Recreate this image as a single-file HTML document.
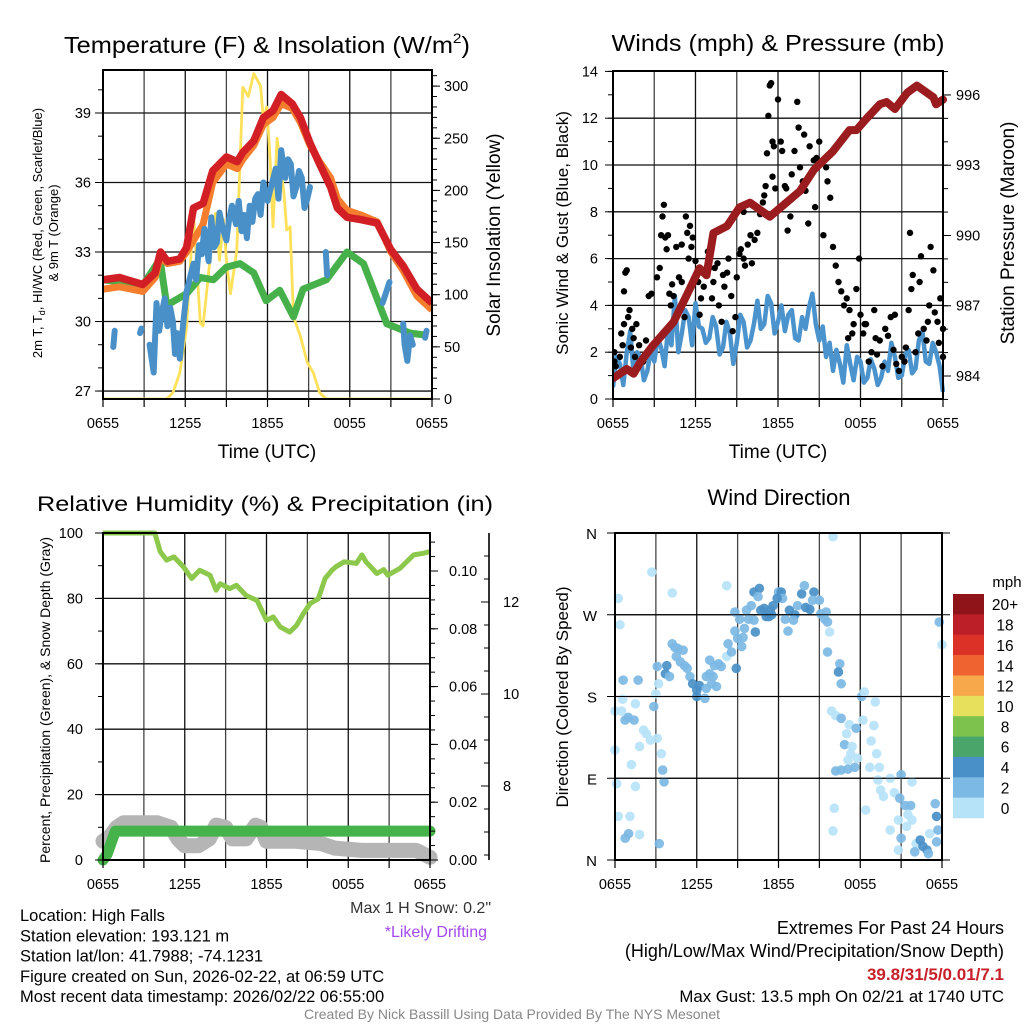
<!DOCTYPE html>
<html><head><meta charset="utf-8"><style>
html,body{margin:0;padding:0;background:#fff;}
svg{display:block;font-family:"Liberation Sans",Arial,sans-serif;}
</style></head><body>
<svg id="c" width="1024" height="1024" viewBox="0 0 1024 1024" xmlns="http://www.w3.org/2000/svg"></svg>
<script>
// ---------- DATA ----------
const timeTicks = ["0655","1255","1855","0055","0655"];
// Panel 1: temperature (hours since 0655)
const tempHours = [0,1.2,2.9,3.8,4.2,4.7,5.6,6.1,6.6,7.3,8,9,9.8,10.2,11,11.7,12.4,13,13.8,14.4,15.1,15.8,16.6,17.1,17.8,18.8,20,21,21.9,22.9,24];
const temp2m = [31.8,31.9,31.6,32.1,33.0,32.6,32.7,33.2,34.9,35.1,36.5,37.1,36.9,37.3,37.8,38.8,39.1,39.8,39.4,38.8,37.7,36.8,35.8,34.9,34.5,34.4,34.25,33.1,32.4,31.4,30.8];
const temp9m = [31.4,31.5,31.3,31.9,32.8,32.5,32.6,33.0,33.5,34.2,36.0,36.8,36.6,37.0,37.6,38.5,38.8,39.4,39.2,38.6,37.6,36.9,36.2,35.3,34.8,34.6,34.3,33.0,32.2,31.1,30.5];
const dewHours = [0,2.94,4.16,4.65,6.1,7.1,8.05,9,10,11,11.9,12.9,13.9,14.6,16.3,17.8,19,20.7,22.4,23.7];
const dewVals = [31.8,31.6,32.7,30.7,31.2,31.9,31.8,32.35,32.5,32.1,30.9,31.35,30.2,31.4,31.8,33.0,32.5,29.9,29.5,29.4];
const hiHours = [0.75,0.85,null,2.7,2.8,null,3.4,3.7,3.9,4.1,4.3,4.5,4.7,4.9,5.1,5.25,5.4,5.6,5.9,6.1,6.3,6.6,6.8,7.0,7.2,7.4,7.7,7.9,8.1,8.3,8.5,8.7,9.0,9.2,9.4,9.7,9.9,10.1,10.3,10.5,10.7,10.9,11.1,11.3,11.5,11.7,12.0,12.3,12.6,12.8,13.0,13.3,13.5,13.7,13.9,14.1,14.3,14.5,14.7,14.9,15.1,null,16.25,16.35,null,20.4,20.9,null,21.9,22.0,22.2,22.4,22.6,null,23.5,23.6];
const hiVals  = [28.9,29.6,null,29.5,29.7,null,29.0,27.8,30.8,29.6,30.4,31.0,29.8,30.6,30.0,28.6,29.5,28.4,30.2,31.3,31.8,32.5,31.8,33.3,32.9,34.0,32.6,34.5,33.2,33.4,34.7,34.1,33.5,34.4,35.0,34.2,35.2,33.9,34.6,33.6,35.0,34.3,35.3,35.5,34.6,36.0,35.2,35.9,36.6,35.3,37.4,36.2,37.0,36.8,35.4,35.8,36.5,36.2,34.9,35.3,35.8,null,33.0,32.0,null,30.8,31.7,null,29.9,29.0,28.3,29.4,29.0,null,29.3,29.6];
const solarHours = [0,4.65,5.1,5.6,6.1,6.6,7.1,7.3,7.8,8.2,8.5,8.8,9.0,9.3,9.76,10.2,10.6,11.0,11.5,11.7,11.95,12.2,12.4,12.7,13.2,13.4,13.65,13.9,14.4,14.9,15.35,15.8,16.3,24];
const solarVals = [0,0,6,25,69,178,73,70,133,178,133,172,133,101,143,299,290,312,300,268,280,229,165,250,197,162,165,79,60,35,25,6,0,0];
// Panel 2: winds & pressure
const presHours = [0,1.0,1.5,2.0,2.9,4.4,5.4,6.3,6.8,7.3,8.3,9.2,9.96,11.4,12.6,13.6,14.6,16.0,17.2,17.7,18.45,19.4,19.9,20.5,21.4,22.1,23.3,23.5,24];
const presVals = [983.9,984.3,984.1,984.6,985.3,986.3,987.5,988.6,988.3,990.1,990.4,991.2,991.4,990.8,991.4,991.9,992.8,993.6,994.5,994.5,995.0,995.6,995.7,995.4,996.1,996.4,995.9,995.6,995.8];
// sonic wind every 15 minutes
const windVals = [0.5,1.8,1.5,0.6,2.0,2.9,1.1,2.0,1.8,0.8,1.2,2.1,1.6,2.6,2.2,1.4,3.0,2.3,4.4,2.0,2.8,3.8,3.5,2.3,4.1,3.1,3.0,2.4,2.6,3.5,3.1,1.9,2.2,3.3,2.8,1.5,2.4,3.6,3.3,2.2,2.5,3.2,4.2,3.0,3.2,4.4,4.1,2.8,3.3,4.0,2.9,3.6,3.8,2.6,2.5,3.5,3.0,3.9,4.5,3.2,2.5,3.1,1.8,2.4,1.2,2.1,1.5,0.7,2.3,1.5,0.8,1.8,1.6,0.7,0.9,1.7,1.3,0.6,0.9,1.6,1.2,2.4,1.8,0.9,1.0,1.9,2.1,1.1,1.3,2.5,2.9,1.6,1.5,2.4,2.0,1.4,0.3];
const gustHours = [0.1,0.1,0.2,0.5,0.6,0.7,0.8,0.9,1.0,0.8,1.1,1.2,1.3,1.4,1.5,1.7,1.9,1.6,2.2,2.4,2.6,2.8,3.2,3.4,3.5,3.6,3.8,3.9,3.7,4.0,4.1,4.2,4.3,4.4,4.6,4.8,5.0,5.0,5.2,5.3,5.4,5.5,5.6,5.7,5.8,6.0,6.2,6.3,6.4,6.5,6.6,6.8,6.9,7.0,7.2,7.3,7.4,7.6,7.7,7.9,8.0,8.1,8.3,8.4,8.6,8.7,8.9,9.0,9.2,9.3,9.5,9.5,9.6,9.8,10.0,10.1,10.3,10.5,10.7,10.9,11.0,11.1,11.2,11.3,11.4,11.5,11.6,11.7,11.6,11.8,12.0,12.2,12.3,12.5,12.6,12.7,12.9,13.0,13.2,13.4,13.5,13.6,13.8,13.9,14.0,14.2,14.3,14.5,14.6,14.7,14.8,15.0,15.2,15.3,15.5,15.6,15.8,16.0,16.2,16.4,16.6,16.8,17.0,17.2,17.4,17.5,17.7,17.9,18.0,18.2,18.4,18.6,18.8,19.0,19.2,19.4,19.6,19.8,20.0,20.2,20.4,20.6,20.8,21.0,21.2,21.5,21.6,21.7,21.8,22.0,22.2,22.3,22.4,22.6,22.8,23.0,23.1,23.3,23.4,23.6,23.8,24.0,24.0,23.7,20.5,19.1,22.9,21.3,18.3,17.1];
const gustVals = [2.0,1.6,1.4,1.8,2.8,2.3,3.2,5.4,5.5,4.6,3.5,3.8,2.2,3.0,2.6,3.2,2.3,1.8,1.6,2.5,4.4,4.5,5.2,5.6,7.0,7.8,6.9,6.4,8.3,7.0,4.5,4.0,4.9,4.4,6.5,5.2,6.6,5.0,3.5,7.8,7.1,6.0,7.4,6.5,6.9,5.9,5.0,3.6,4.3,5.4,4.8,5.3,6.3,5.6,4.3,5.0,5.6,5.8,4.0,3.3,5.3,4.8,5.4,6.0,4.4,2.9,3.5,5.2,6.2,6.4,6.0,8.0,5.7,6.6,7.0,5.8,6.8,7.1,7.9,8.4,8.7,9.1,10.5,12.1,13.4,13.5,11.0,10.8,9.5,9.0,12.8,11.0,10.6,9.1,9.0,7.2,7.8,9.6,10.6,12.7,11.6,9.9,9.3,11.3,8.9,7.5,10.8,9.7,10.2,8.2,10.3,11.0,10.1,7.0,9.9,9.3,8.6,6.5,5.7,5.0,4.6,4.0,4.3,3.8,2.8,3.2,4.7,6.0,3.6,2.8,3.2,1.6,2.0,3.8,1.9,2.5,1.4,3.0,2.7,3.5,2.1,1.5,1.2,1.8,1.6,3.8,7.1,4.7,5.3,2.0,2.8,5.0,6.1,3.0,2.5,4.0,6.5,5.5,3.7,3.3,4.3,1.8,3.0,2.4,3.6,2.6,3.3,2.2,3.2,2.6];
// Panel 3: RH, precip, snow depth
const rhHours = [0,3.8,4.2,4.67,5.2,5.9,6.5,7.1,7.85,8.3,8.6,9.3,9.8,10.5,11.3,12.0,12.5,13.0,13.7,14.2,14.7,15.2,15.8,16.3,16.8,17.1,17.7,18.6,19.0,19.3,20.1,20.6,20.9,21.8,22.8,23.5,24];
const rhVals = [100,100,94.3,91.7,92.7,89.7,86.1,88.6,87.1,82.5,84.5,83.0,84.0,80.9,79.4,73.3,74.3,71.3,69.7,71.7,75.3,78.4,79.9,86.1,88.6,89.7,91.2,90.7,93.3,91.2,87.6,88.8,87.1,89.2,93.3,93.8,94.3];
const precipHours = [0,0.3,0.6,0.9,2,6,12,18,24];
const precipVals = [0,0.002,0.006,0.01,0.01,0.01,0.01,0.01,0.01];
const snowHours = [0,0.5,1,1.5,2,3,4,5,5.5,6,7,7.8,8.3,9,9.5,10.5,11.2,11.6,12,14,16,17,19,21,23,24];
const snowVals = [6.8,6.9,7.1,7.2,7.2,7.2,7.2,7.1,6.85,6.7,6.7,6.85,7.15,7.1,6.85,6.85,7.15,7.1,6.8,6.8,6.75,6.65,6.6,6.6,6.6,6.45];
// Panel 4: wind direction (hours, degrees, speed class 0=0-2,1=2-4,2=4-6)
const dirHours = [0.24,0.37,0,0.12,0.24,0,0.49,0.56,0.6,0.74,0.98,1.4,1.5,1.7,2.7,2.1,2.3,2.6,1.8,1.2,1.5,1.1,1.0,0.75,1.8,3.1,3.4,3.5,3.6,3.25,2.85,3.0,3.1,3.2,3.7,3.8,4.0,4.2,4.2,4.4,4.6,5.0,4.5,4.8,5.1,5.3,5.5,5.7,6.0,6.2,6.0,6.6,6.7,6.7,6.95,7.2,7.45,7.1,6.95,7.3,7.6,7.8,8.2,8.3,8.55,8.9,9.0,9.3,9.4,8.8,8.8,9.15,9.5,9.8,9.65,10.0,10.3,10.2,10.2,10.6,10.5,10.7,10.95,11.1,11.3,11.5,11.6,11.4,12.0,12.2,12.3,11.9,12.5,12.7,12.8,13.2,13.1,13.4,13.7,13.9,14.0,14.3,14.6,15.0,14.5,15.1,15.5,15.4,15.6,15.75,15.6,16.5,16.4,16.6,16.0,15.9,16.2,16.6,17.2,17.0,16.85,17.4,17.3,17.1,17.8,17.7,17.6,16.2,16.6,17.1,18.1,18.3,18.2,19.1,19.0,18.8,19.2,18.7,19.4,19.3,19.5,19.7,20.2,20.5,21.0,20.9,21.3,21.7,21.8,20.8,21.5,21.4,21.8,20.2,21.0,20.8,22.1,22.4,22.6,22.9,22.0,23.0,23.1,23.5,23.6,23.7,23.6,23.8,24.0,18.4,16.0,16.1,8.2];
const dirDegs = [288,259,121,84,48,164,164,177,198,154,157,154,172,198,317,143,139,132,125,105,81,48,29,24,28,134,117,99,86,18,169,183,213,194,205,214,202,294,238,234,233,231,224,218,214,211,202,194,187,192,180,178,189,202,205,202,191,194,220,214,216,213,224,238,229,211,244,235,245,252,273,265,255,265,275,280,251,264,295,299,290,275,277,268,268,270,280,275,295,295,288,288,265,252,275,270,264,280,293,302,278,276,295,286,286,271,273,265,262,251,229,216,207,194,356,164,159,156,149,139,127,125,117,110,112,145,102,98,99,100,180,185,154,174,148,131,117,102,102,88,77,70,90,74,94,68,60,60,86,44,50,37,44,33,24,11,18,22,15,11,9,7,29,62,48,33,20,262,237,55,32,57,302];
const dirClass = [0,0,0,0,0,0,0,0,1,1,1,1,0,1,0,0,0,0,0,0,0,0,1,1,0,0,0,1,1,1,1,0,1,0,2,2,1,0,1,1,1,1,1,1,1,1,1,2,2,2,2,1,1,1,1,1,1,1,1,1,1,1,0,1,1,2,1,1,1,1,1,1,1,1,1,1,2,1,2,2,1,2,2,2,2,2,2,2,1,2,1,2,1,1,2,2,1,1,2,1,2,2,2,1,1,1,1,1,1,0,1,1,2,1,0,0,0,1,0,0,1,0,0,0,0,1,1,1,1,1,1,0,0,0,0,0,0,0,0,0,0,0,0,0,1,1,1,1,0,0,0,0,0,0,1,0,0,2,2,2,1,1,0,1,2,1,1,1,0,0,0,0,0,0];
const speedLabels = ["20+","18","16","14","12","10","8","6","4","2","0"];
const speedColors = ["#8f1419","#bd1f29","#dc3127","#ef6331","#f6a84b","#e7e05c","#7cc24d","#4aa56b","#4a90c8","#7cb9e4","#b7e3f8"];
const dirColors = ["#b7e3f8","#7cb9e4","#4a90c8"];

// ---------- DRAWING ----------
const svg = document.getElementById('c');
const NS = 'http://www.w3.org/2000/svg';
function mk(tag, attrs, parent){
  const e = document.createElementNS(NS, tag);
  for (const k in attrs) e.setAttribute(k, attrs[k]);
  (parent||svg).appendChild(e);
  return e;
}
function txt(s, x, y, size, anchor, extra){
  const e = mk('text', Object.assign({x:x, y:y, 'font-size':size, 'text-anchor':anchor||'middle', fill:'#000'}, extra||{}));
  e.textContent = s;
  return e;
}
function pathFrom(hs, vs, fx, fy){
  let d = '', pen = false;
  for (let i=0;i<hs.length;i++){
    if (hs[i]===null || vs[i]===null){ pen=false; continue; }
    d += (pen?'L':'M') + fx(hs[i]).toFixed(1) + ' ' + fy(vs[i]).toFixed(1) + ' ';
    pen = true;
  }
  return d;
}
function grid(g, x0,x1,y0,y1, hy){
  for (let h=3; h<24; h+=3){
    const x = x0 + (x1-x0)*h/24;
    const l = mk('line',{x1:x,x2:x,y1:y0,y2:y1,stroke:(h%6===0)?'#111':'#444','stroke-width':1.3},g);
    
    
  }
  hy.forEach(y=>{
    const l = mk('line',{x1:x0,x2:x1,y1:y,y2:y,stroke:'#111','stroke-width':1.3},g);
    
    
  });
}
function xAxis(g, x0, x1, yb){
  for (let h=0; h<=24; h+=3){
    const x = x0 + (x1-x0)*h/24;
    mk('line',{x1:x,x2:x,y1:yb,y2:yb+8,stroke:'#000','stroke-width':1.2},g);
  }
  timeTicks.forEach((t,i)=>{
    const x = x0 + (x1-x0)*i/4;
    const e = txt(t, x, yb+29, 14.5, 'middle');
    
    
  });
}
function vTicks(g, x, vals, fy, dir, len){
  vals.forEach(v=>{ const y=fy(v); mk('line',{x1:x,x2:x+dir*len,y1:y,y2:y,stroke:'#000','stroke-width':1},g); });
}
function frame(g,x0,x1,y0,y1){
  const r = mk('rect',{x:x0,y:y0,width:x1-x0,height:y1-y0,fill:'none',stroke:'#000','stroke-width':2},g);
  
  
}
function vlabel(s, x, y, size, g){
  const e = mk('text',{x:0,y:0,'font-size':size,'text-anchor':'middle',fill:'#000',transform:`translate(${x},${y}) rotate(-90)`},g);
  e.textContent = s;
  return e;
}
function range(a,b,s){ const r=[]; for(let v=a; v<=b+1e-9; v+=s) r.push(+v.toFixed(4)); return r; }

// ===== Panel 1 =====
(function(){
  const g = mk('g',{});
  
  
  const x0=103,x1=432,y0=70,y1=399;
  const fx = h => x0 + h*(x1-x0)/24;
  const fy = v => 113 + (39-v)*23.17;
  const fs = v => 399 - v*1.043;
  grid(g,x0,x1,y0,y1,[27,30,33,36,39].map(fy));
  const cp = mk('clipPath',{id:'cp1'}); mk('rect',{x:x0,y:y0,width:x1-x0,height:y1-y0},cp);
  const d = mk('g',{'clip-path':'url(#cp1)'},g);
  const sol = mk('path',{d:pathFrom(solarHours,solarVals,fx,fs),fill:'none',stroke:'#fde15a','stroke-width':2.8,'stroke-linejoin':'round'},d);
  
  
  const dew = mk('path',{d:pathFrom(dewHours,dewVals,fx,fy),fill:'none',stroke:'#46b14a','stroke-width':7,'stroke-linejoin':'round'},d);
  
  
  const o = mk('path',{d:pathFrom(tempHours,temp9m,fx,fy),fill:'none',stroke:'#f47d2e','stroke-width':7,'stroke-linejoin':'round'},d);
  
  
  const r = mk('path',{d:pathFrom(tempHours,temp2m,fx,fy),fill:'none',stroke:'#d21f26','stroke-width':7.5,'stroke-linejoin':'round'},d);
  
  
  const b = mk('path',{d:pathFrom(hiHours,hiVals,fx,fy),fill:'none',stroke:'#4a90c8','stroke-width':6,'stroke-linejoin':'round','stroke-linecap':'round'},d);
  
  
  frame(g,x0,x1,y0,y1);
  vTicks(g,x0,range(27,40,1),fy,-1,5);
  vTicks(g,x0,[27,30,33,36,39],fy,-1,8);
  [27,30,33,36,39].forEach(v=>{ const e=txt(String(v),x0-12,fy(v)+5,14.5,'end');   });
  vTicks(g,x1,range(0,310,10),fs,1,5);
  vTicks(g,x1,range(0,300,50),fs,1,8);
  range(0,300,50).forEach(v=>{ const e=txt(String(v),x1+12,fs(v)+5,14.5,'start');   });
  xAxis(g,x0,x1,y1);
  const t = mk('text',{x:267,y:53,'font-size':23,'text-anchor':'middle',fill:'#000',textLength:406,lengthAdjust:'spacingAndGlyphs'},g);
  t.innerHTML = 'Temperature (F) &amp; Insolation (W/m<tspan font-size="14" dy="-10">2</tspan><tspan dy="10">)</tspan>';
  
  
  const xl = txt('Time (UTC)',267,458,19,'middle',{});  
  const yl = mk('text',{x:0,y:0,'font-size':13,'text-anchor':'middle',fill:'#000',transform:'translate(42,233) rotate(-90)'},g);
  yl.innerHTML = '2m T, T<tspan font-size="9" dy="3">d</tspan><tspan dy="-3">, HI/WC (Red, Green, Scarlet/Blue)</tspan>';
  
  
  const yl2 = vlabel('& 9m T (Orange)',58,233,13,g);  
  const yr = vlabel('Solar Insolation (Yellow)',500,235,19,g);  
})();

// ===== Panel 2 =====
(function(){
  const g = mk('g',{});
  
  
  const x0=613,x1=943,y0=71,y1=399;
  const fx = h => x0 + h*(x1-x0)/24;
  const fw = v => 399 - v*23.4;
  const fp = v => 376 - (v-984)*23.42;
  grid(g,x0,x1,y0,y1,range(2,12,2).map(fw));
  const cp = mk('clipPath',{id:'cp2'}); mk('rect',{x:x0,y:y0-4,width:x1-x0+6,height:y1-y0+8},cp);
  const d = mk('g',{'clip-path':'url(#cp2)'},g);
  const wh = windVals.map((v,i)=>i*0.25);
  const w = mk('path',{d:pathFrom(wh,windVals,fx,fw),fill:'none',stroke:'#4b93cc','stroke-width':4.5,'stroke-linejoin':'round'},d);
  
  
  gustHours.forEach((h,i)=>{
    const c = mk('circle',{cx:fx(h),cy:fw(gustVals[i]),r:3.2,fill:'#000'},d);
    
    
  });
  const p = mk('path',{d:pathFrom(presHours,presVals,fx,fp),fill:'none',stroke:'#9b1c1f','stroke-width':8,'stroke-linejoin':'round','stroke-linecap':'round'},d);
  
  
  frame(g,x0,x1,y0,y1);
  vTicks(g,x0,range(0,14,1),fw,-1,5);
  vTicks(g,x0,range(0,14,2),fw,-1,8);
  range(0,14,2).forEach(v=>{ const e=txt(String(v),x0-15,fw(v)+5,14.5,'end');   });
  vTicks(g,x1,range(983,997,1),fp,1,5);
  vTicks(g,x1,range(984,996,3),fp,1,8);
  range(984,996,3).forEach(v=>{ const e=txt(String(v),x1+13,fp(v)+5,14.5,'start');   });
  xAxis(g,x0,x1,y1);
  const t = mk('text',{x:778,y:51,'font-size':23,'text-anchor':'middle',fill:'#000',textLength:333,lengthAdjust:'spacingAndGlyphs'},g);
  t.textContent = 'Winds (mph) & Pressure (mb)';
  
  
  const xl = txt('Time (UTC)',778,458,19,'middle');  
  const yl = vlabel('Sonic Wind & Gust (Blue, Black)',568,233,17,g);  
  const yr = vlabel('Station Pressure (Maroon)',1014,233,19,g);  
})();

// ===== Panel 3 =====
(function(){
  const g = mk('g',{});
  
  
  const x0=103,x1=430,y0=533,y1=860;
  const fx = h => x0 + h*(x1-x0)/24;
  const fr = v => 860 - v*3.27;
  const fpr = v => 860 - v*2890;
  const fsd = v => 786 - (v-8)*46;
  grid(g,x0,x1,y0,y1,[20,40,60,80].map(fr));
  const s = mk('path',{d:pathFrom(snowHours,snowVals,fx,fsd),fill:'none',stroke:'#b5b5b5','stroke-width':15,'stroke-linejoin':'round','stroke-linecap':'round'},g);
  
  
  const pr = mk('path',{d:pathFrom(precipHours,precipVals,fx,fpr),fill:'none',stroke:'#46b24a','stroke-width':11,'stroke-linejoin':'round','stroke-linecap':'round'},g);
  
  
  const rh = mk('path',{d:pathFrom(rhHours,rhVals,fx,fr),fill:'none',stroke:'#8cc84b','stroke-width':5,'stroke-linejoin':'round'},g);
  
  
  frame(g,x0,x1,y0,y1);
  vTicks(g,x0,range(0,100,10),fr,-1,5);
  vTicks(g,x0,range(0,100,20),fr,-1,8);
  range(0,100,20).forEach(v=>{ const e=txt(String(v),x0-20,fr(v)+5,14.5,'end');   });
  vTicks(g,x1,range(0,0.11,0.005),fpr,1,5);
  vTicks(g,x1,range(0,0.10,0.02),fpr,1,8);
  range(0,0.10,0.02).forEach(v=>{ const e=txt(v.toFixed(2),x1+19,fpr(v)+5,14.5,'start');   });
  const ax2 = mk('line',{x1:489,x2:489,y1:533,y2:860,stroke:'#000','stroke-width':1.6},g);
  
  
  vTicks(g,489,range(6.5,13,0.5),fsd,-1,5);
  vTicks(g,489,[8,10,12],fsd,-1,8);
  [8,10,12].forEach(v=>{ const e=txt(String(v),503,fsd(v)+5,14.5,'start');   });
  xAxis(g,x0,x1,y1);
  const t = txt('Relative Humidity (%) & Precipitation (in)',265,511,21.5,'middle',{textLength:456,lengthAdjust:'spacingAndGlyphs'});
  
  
  const yl = vlabel('Percent, Precipitation (Green), & Snow Depth (Gray)',50,700,14,g);  
  const m = txt('Max 1 H Snow: 0.2"',491,913,16,'end',{fill:'#333'});  
  const dr = txt('*Likely Drifting',487,937,16,'end',{fill:'#a54af0'});  
})();

// ===== Panel 4 =====
(function(){
  const g = mk('g',{});
  
  
  const x0=615,x1=942,y0=533,y1=860;
  const fx = h => x0 + h*(x1-x0)/24;
  const fd = v => 860 - v*327/360;
  grid(g,x0,x1,y0,y1,[90,180,270].map(fd));
  dirHours.forEach((h,i)=>{
    const c = mk('circle',{cx:fx(h),cy:fd(dirDegs[i]),r:4.8,fill:dirColors[dirClass[i]],'fill-opacity':0.92},g);
    
    
  });
  frame(g,x0,x1,y0,y1);
  ['N','E','S','W','N'].forEach((s,i)=>{
    const y = fd(i*90);
    mk('line',{x1:x0-8,x2:x1+8,y1:y,y2:y,stroke:'#000','stroke-width':1},g);
    const e = txt(s,597,y+6,15,'end');  
  });
  xAxis(g,x0,x1,y1);
  const t = txt('Wind Direction',779,505,22,'middle');  
  const yl = vlabel('Direction (Colored By Speed)',568,697,17,g);  
  const cb = mk('g',{},g);
  
  
  const bh = 224/speedColors.length;
  speedColors.forEach((c,i)=>{
    const r = mk('rect',{x:953,y:594+i*bh,width:31,height:bh+0.3,fill:c},cb);
    
    
  });
  speedLabels.forEach((s,i)=>{
    const e = txt(s,1005,594+i*bh+bh/2+6,15.5,'middle');  
  });
  const u = txt('mph',1007,587,15,'middle');  
})();

// ===== Footer =====
const foot = ["Location: High Falls","Station elevation: 193.121 m","Station lat/lon: 41.7988; -74.1231","Figure created on Sun, 2026-02-22, at 06:59 UTC","Most recent data timestamp: 2026/02/22 06:55:00"];
foot.forEach((s,i)=>{
  const e = txt(s,20,921+i*20.3,16.5,'start');
  
  
});
const ex1 = txt('Extremes For Past 24 Hours',1004,934,18,'end');  
const ex2 = txt('(High/Low/Max Wind/Precipitation/Snow Depth)',1004,957,18,'end');  
const ex3 = txt('39.8/31/5/0.01/7.1',1004,980,17,'end',{fill:'#c8202a','font-weight':'bold'});  
const ex4 = txt('Max Gust: 13.5 mph On 02/21 at 1740 UTC',1004,1002,16.8,'end');  
const cr = txt('Created By Nick Bassill Using Data Provided By The NYS Mesonet',512,1019,14,'middle',{fill:'#888'});  
</script>
</body></html>
